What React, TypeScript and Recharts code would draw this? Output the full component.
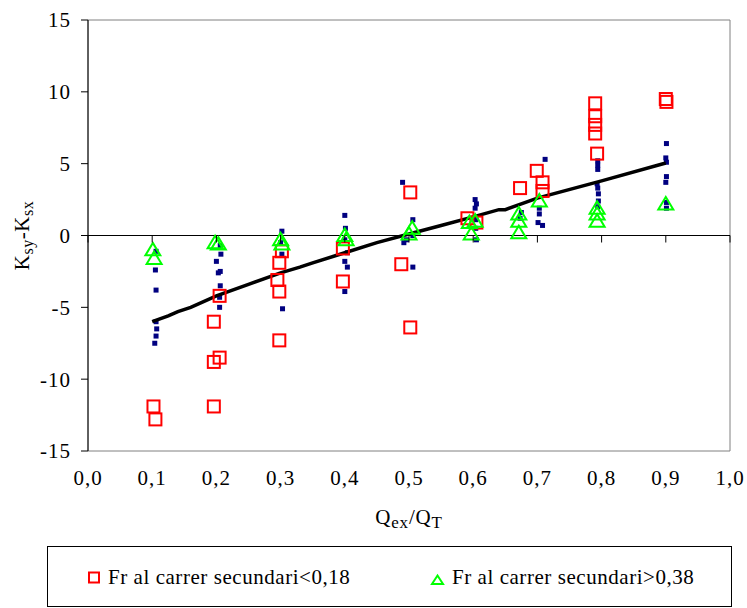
import React from 'react';
import { ScatterChart, Scatter, XAxis, YAxis, ReferenceLine, ReferenceArea, Legend, Label } from 'recharts';

const FONT = "Liberation Serif, DejaVu Serif, Times New Roman, serif";

// axis setup
const X_MIN = 0;
const X_MAX = 1;
const Y_MIN = -15;
const Y_MAX = 15;
const xTicks = [0, 0.1, 0.2, 0.3, 0.4, 0.5, 0.6, 0.7, 0.8, 0.9, 1];
const yTicks = [-15, -10, -5, 0, 5, 10, 15];

// all data (navy small squares) : [Qex/QT, Ksy-Ksx]
const allPoints: [number, number][] = [
  [0.106, -1.1], [0.105, -2.4], [0.106, -3.8], [0.106, -6.0], [0.107, -6.5], [0.106, -7.0], [0.104, -7.5],
  [0.206, -0.7], [0.207, -1.3], [0.200, -1.8], [0.206, -2.5], [0.203, -2.6], [0.206, -3.5], [0.205, -4.3], [0.205, -5.0],
  [0.302, 0.3], [0.300, -0.5], [0.302, -1.3], [0.303, -5.1],
  [0.400, 1.4], [0.401, 0.5], [0.400, -0.3], [0.404, -1.2], [0.400, -1.8], [0.404, -2.2], [0.400, -3.9],
  [0.490, 3.7], [0.506, 1.1], [0.506, 0.0], [0.496, -0.3], [0.492, -0.5], [0.506, -2.2],
  [0.603, 2.5], [0.605, 2.2], [0.603, 1.9], [0.604, 1.1], [0.604, 0.5], [0.605, -0.3],
  [0.675, 1.6], [0.673, 1.2],
  [0.712, 5.3], [0.703, 1.9], [0.703, 1.5], [0.701, 0.9], [0.708, 0.7],
  [0.794, 5.2], [0.794, 4.9], [0.794, 4.6], [0.793, 3.6], [0.794, 3.3], [0.795, 2.9], [0.795, 2.4], [0.794, 2.0],
  [0.901, 6.4], [0.900, 5.4], [0.901, 5.1], [0.901, 4.1], [0.900, 3.7], [0.901, 2.3], [0.901, 1.9],
];

// Fr al carrer secundari < 0,18 (red open squares)
const frBelow018: [number, number][] = [
  [0.102, -11.9], [0.105, -12.8],
  [0.205, -4.2], [0.196, -6.0], [0.196, -8.8], [0.205, -8.5], [0.196, -11.9],
  [0.302, -1.1], [0.298, -1.9], [0.295, -3.1], [0.298, -3.9], [0.298, -7.3],
  [0.397, -0.9], [0.397, -3.2],
  [0.502, 3.0], [0.488, -2.0], [0.502, -6.4],
  [0.591, 1.2], [0.605, 0.9],
  [0.673, 3.3],
  [0.699, 4.5], [0.708, 3.7], [0.708, 3.1],
  [0.790, 9.2], [0.790, 8.3], [0.790, 7.7], [0.790, 7.1], [0.793, 5.7],
  [0.900, 9.5], [0.901, 9.3],
];

// Fr al carrer secundari > 0,38 (green open triangles)
const frAbove038: [number, number][] = [
  [0.101, -1.0], [0.103, -1.6],
  [0.198, -0.5], [0.203, -0.6],
  [0.300, -0.3], [0.302, -0.6],
  [0.400, 0.0], [0.402, -0.3],
  [0.505, 0.5], [0.500, 0.1],
  [0.594, 0.9], [0.603, 1.0], [0.597, 0.1],
  [0.671, 1.5], [0.671, 1.0], [0.671, 0.2],
  [0.703, 2.4],
  [0.793, 1.9], [0.793, 1.5], [0.793, 1.0],
  [0.900, 2.2],
];

// fitted trend line
const trendLine: [number, number][] = [
  [0.100, -6.0], [0.125, -5.6], [0.140, -5.3], [0.160, -5.0], [0.200, -4.2], [0.250, -3.4],
  [0.300, -2.6], [0.330, -2.2], [0.350, -1.9], [0.400, -1.2], [0.450, -0.5], [0.500, 0.1],
  [0.550, 0.7], [0.600, 1.3], [0.640, 1.8], [0.650, 1.8], [0.700, 2.6], [0.800, 3.8], [0.900, 5.05],
];

const legendLabels = ['Fr al carrer secundari<0,18', 'Fr al carrer secundari>0,38'];

const toObjs = (arr: [number, number][]) => arr.map(([x, y]) => ({ x, y }));

const CHART_W = 747;
const CHART_H = 608;
const MARGIN = { top: 20, right: 17, bottom: 0, left: 0 };
const Y_AXIS_W = 88;
const X_AXIS_H = 157;
const PLOT_TOP = MARGIN.top;
const PLOT_H = CHART_H - MARGIN.top - MARGIN.bottom - X_AXIS_H;
const ZERO_Y = PLOT_TOP + (PLOT_H * (Y_MAX - 0)) / (Y_MAX - Y_MIN);

const fmtX = (v: number) => v.toFixed(1).replace('.', ',');

const XTick = (props: any) => {
  const { x, y, payload } = props;
  return (
    <g>
      <line x1={x} x2={x} y1={ZERO_Y} y2={ZERO_Y + 7} stroke="#000" strokeWidth={1} />
      <text
        x={x}
        y={y}
        dy="0.71em"
        textAnchor="middle"
        style={{ fontFamily: FONT, letterSpacing: '1px' }}
        fontSize={21}
        fill="#000"
      >
        {fmtX(payload.value)}
      </text>
    </g>
  );
};

const NavyDot = (props: any) => {
  const { cx, cy } = props;
  if (cx == null || cy == null) return <g />;
  return <rect x={cx - 2.5} y={cy - 2.5} width={5} height={5} fill="#000080" />;
};

const RedSquare = (props: any) => {
  const { cx, cy } = props;
  if (cx == null || cy == null) return <g />;
  return <rect x={cx - 6} y={cy - 6} width={12} height={12} fill="none" stroke="#FF0000" strokeWidth={2} />;
};

const GreenTriangle = (props: any) => {
  const { cx, cy } = props;
  if (cx == null || cy == null) return <g />;
  return (
    <polygon
      points={`${cx},${cy - 7} ${cx + 7.5},${cy + 5.5} ${cx - 7.5},${cy + 5.5}`}
      fill="none"
      stroke="#00FF00"
      strokeWidth={2}
    />
  );
};

const NoShape = () => <g />;

const XTitle = (props: any) => {
  const vb = props.viewBox || {};
  const cx = vb.x + vb.width / 2;
  const by = vb.y + 73;
  return (
    <text
      x={cx}
      y={by}
      textAnchor="middle"
      style={{ fontFamily: FONT, letterSpacing: '0.8px' }}
      fontSize={21}
      fill="#000"
    >
      Q<tspan fontSize={17} dy={4}>ex</tspan>
      <tspan dy={-4}>/Q</tspan>
      <tspan fontSize={17} dy={4}>T</tspan>
    </text>
  );
};

const YTitle = (props: any) => {
  const vb = props.viewBox || {};
  const bx = 28.5;
  const cy = vb.y + vb.height / 2;
  return (
    <text
      x={bx}
      y={cy}
      transform={`rotate(-90, ${bx}, ${cy})`}
      textAnchor="middle"
      style={{ fontFamily: FONT, letterSpacing: '0.5px' }}
      fontSize={21}
      fill="#000"
    >
      K<tspan fontSize={16} dy={4}>sy</tspan>
      <tspan dy={-4}>-K</tspan>
      <tspan fontSize={16} dy={4}>sx</tspan>
    </text>
  );
};

const LegendBox = () => (
  <svg width={685} height={61} style={{ display: 'block' }}>
    <rect x={0.5} y={0.5} width={684} height={60} fill="#fff" stroke="#000" strokeWidth={1} />
    <rect x={42} y={26.5} width={10} height={10} fill="none" stroke="#FF0000" strokeWidth={2} />
    <text x={61} y={38} style={{ fontFamily: FONT, letterSpacing: '0.55px' }} fontSize={21} fill="#000">
      {legendLabels[0]}
    </text>
    <polygon points="390.5,29.5 396,38 385,38" fill="none" stroke="#00FF00" strokeWidth={2} />
    <text x={405} y={38} style={{ fontFamily: FONT, letterSpacing: '0.55px' }} fontSize={21} fill="#000">
      {legendLabels[1]}
    </text>
  </svg>
);

export default function App() {
  return (
    <div style={{ position: 'absolute', left: 0, top: 0, width: CHART_W, height: CHART_H, background: '#fff', fontFamily: FONT }}>
      <ScatterChart width={CHART_W} height={CHART_H} margin={MARGIN} style={{ fontFamily: FONT }}>
        <XAxis
          type="number"
          dataKey="x"
          domain={[X_MIN, X_MAX]}
          ticks={xTicks}
          interval={0}
          height={X_AXIS_H}
          axisLine={false}
          tickLine={false}
          tickSize={8}
          tickMargin={11}
          tick={<XTick />}
          allowDataOverflow
        >
          <Label content={<XTitle />} />
        </XAxis>
        <YAxis
          type="number"
          dataKey="y"
          domain={[Y_MIN, Y_MAX]}
          ticks={yTicks}
          interval={0}
          width={Y_AXIS_W}
          axisLine={{ stroke: '#000', strokeWidth: 1 }}
          tickLine={{ stroke: '#000', strokeWidth: 1 }}
          tickSize={7}
          tickMargin={10}
          tick={{ fontSize: 21, fill: '#000', style: { fontFamily: FONT, letterSpacing: '1px' } }}
          allowDataOverflow
        >
          <Label content={<YTitle />} />
        </YAxis>
        <ReferenceArea x1={X_MIN} x2={X_MAX} y1={Y_MIN} y2={Y_MAX} fill="none" fillOpacity={0} stroke="#808080" strokeWidth={1} />
        <ReferenceLine y={0} stroke="#000" strokeWidth={1} />
        <Scatter data={toObjs(allPoints)} shape={NavyDot} isAnimationActive={false} legendType="none" />
        <Scatter
          data={toObjs(trendLine)}
          line={{ stroke: '#000', strokeWidth: 3.5 }}
          lineJointType="linear"
          shape={NoShape}
          isAnimationActive={false}
          legendType="none"
        />
        <Scatter data={toObjs(frBelow018)} shape={RedSquare} isAnimationActive={false} name={legendLabels[0]} />
        <Scatter data={toObjs(frAbove038)} shape={GreenTriangle} isAnimationActive={false} name={legendLabels[1]} />
        <Legend
          layout="horizontal"
          verticalAlign="middle"
          align="center"
          content={<LegendBox />}
          wrapperStyle={{ left: 47, top: 546, width: 685, height: 61 }}
        />
      </ScatterChart>
    </div>
  );
}
